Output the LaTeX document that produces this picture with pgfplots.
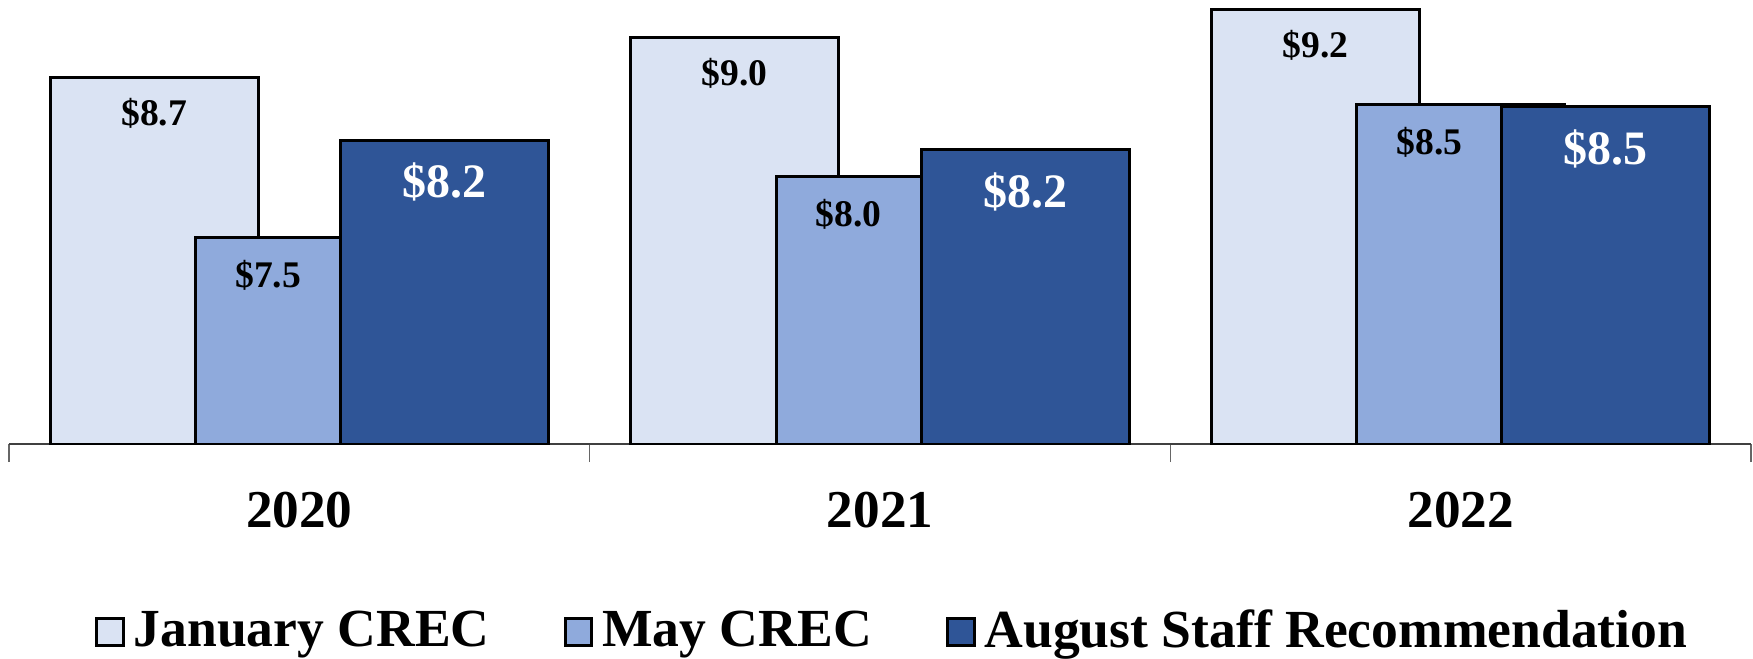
\documentclass[border=0pt]{standalone}
\usepackage{fontspec}
\setmainfont{Liberation Serif}
\usepackage{pgfplots}
\pgfplotsset{compat=1.18}
\definecolor{janc}{RGB}{218,227,243}
\definecolor{mayc}{RGB}{143,170,220}
\definecolor{augc}{RGB}{47,85,151}
\begin{document}
\begin{tikzpicture}
\useasboundingbox (0,0) rectangle (438.25pt,164.5pt);
\begin{axis}[
    at={(2.25pt,53.5pt)}, anchor=south west,
    width=435.5pt, height=111pt, scale only axis,
    ybar, bar width=0.358,
    xmin=-0.5, xmax=2.5,
    ymin=5.95, ymax=9.28,
    axis x line*=bottom, axis y line=none,
    x axis line style={black!75, line width=0.4pt},
    xtick={0,1,2},
    xticklabels={2020,2021,2022},
    major tick length=0pt,
    minor xtick={-0.5,0.5,1.5,2.5},
    minor tick length=4.5pt,
    tick align=outside,
    minor tick style={black!60, line width=0.4pt},
    xticklabel style={anchor=center, yshift=-16.5pt, font=\fontsize{13.3}{16}\selectfont\bfseries},
    ytick=\empty,
    nodes near coords={\$\pgfmathprintnumber[fixed,fixed zerofill,precision=1,assume math mode=true]{\pgfplotspointmeta}},
    legend columns=3,
    legend cell align=left,
    legend style={
        at={(0.5075,-0.4234)}, anchor=center, draw=none,
        font=\fontsize{13.4}{16}\selectfont\bfseries,
        nodes={inner sep=1pt},
        /tikz/every odd column/.append style={column sep=1.25pt},
        /tikz/every even column/.append style={column sep=17.5pt},
    },
    legend image code/.code={\draw[#1] (0pt,-3.3pt) rectangle (6.7pt,3.3pt);},
]

% January CREC
\addplot[fill=janc, draw=black, line width=0.75pt, bar shift=-0.25,
    nodes near coords style={anchor=center, yshift=-9pt, black, font=\fontsize{9.4}{11}\selectfont\bfseries}]
    coordinates {(0,8.70) (1,9.00) (2,9.21)};
\addlegendentry{January CREC}

% May CREC (label centred on the part of the bar left uncovered)
\addplot[fill=mayc, draw=black, line width=0.75pt, bar shift=0,
    nodes near coords style={anchor=center, xshift=-7.8pt, yshift=-9.5pt, black, font=\fontsize{9.4}{11}\selectfont\bfseries}]
    coordinates {(0,7.50) (1,7.96) (2,8.50)};
\addlegendentry{May CREC}

% August staff recommendation
\addplot[fill=augc, draw=black, line width=0.75pt, bar shift=0.25,
    nodes near coords style={anchor=center, yshift=-10.6pt, white, font=\fontsize{12}{14}\selectfont\bfseries}]
    coordinates {(0,8.23) (1,8.16) (2,8.48)};
\addlegendentry{August Staff Recommendation}

\end{axis}
\end{tikzpicture}
\end{document}
